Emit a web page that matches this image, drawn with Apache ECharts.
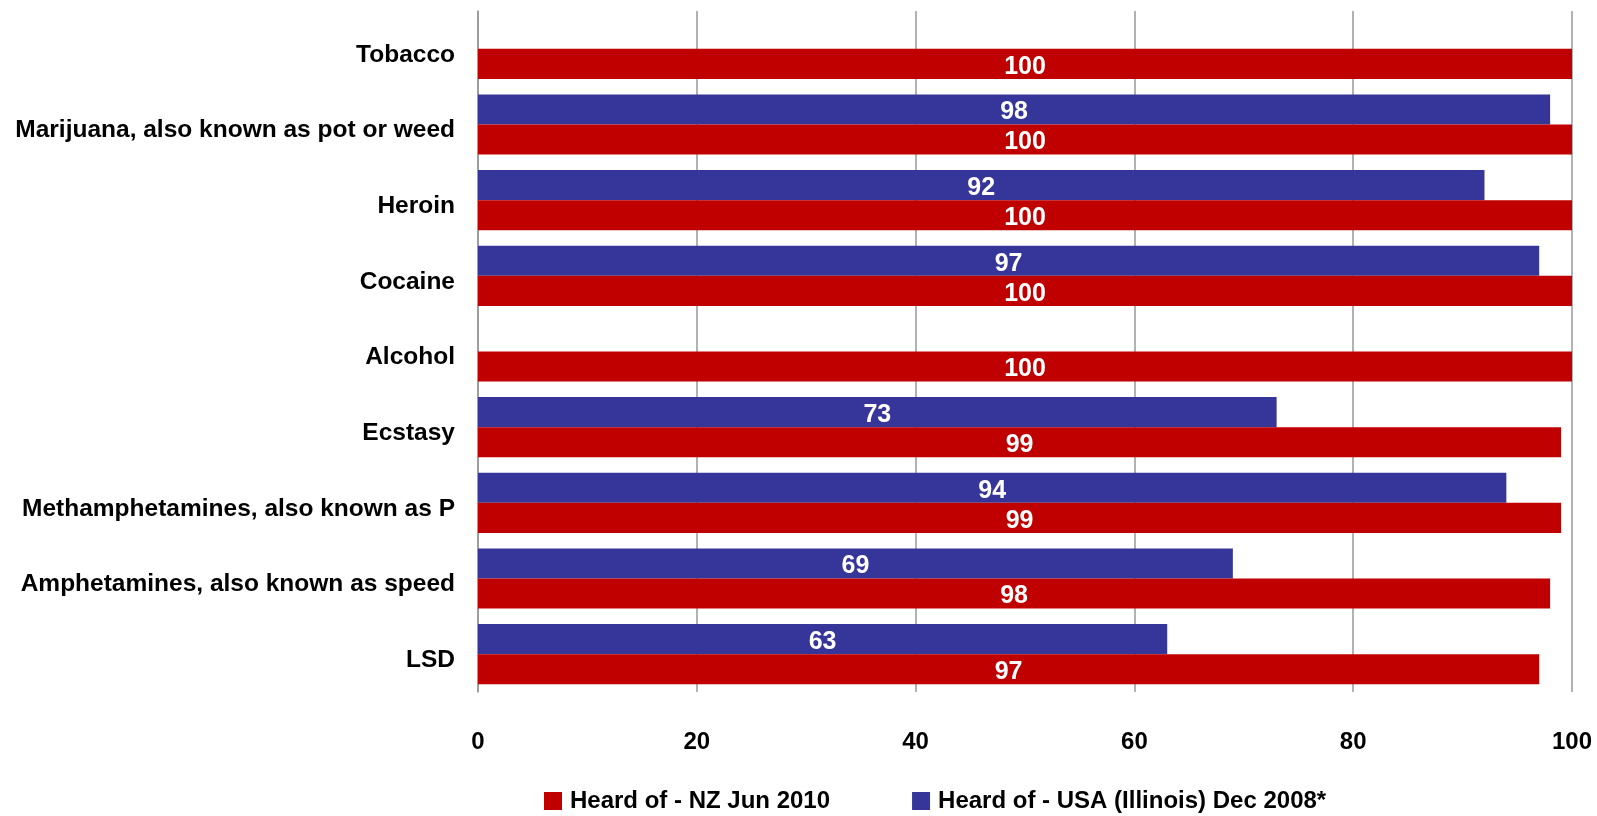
<!DOCTYPE html>
<html><head><meta charset="utf-8">
<script src="https://cdn.jsdelivr.net/npm/echarts@6/dist/echarts.min.js"></script>
<style>html,body{margin:0;padding:0;background:#fff}#c{width:1597px;height:816px}</style>
</head><body><div id="c"></div>
<script>
// categories listed bottom to top
const categories = ["LSD","Amphetamines, also known as speed","Methamphetamines, also known as P","Ecstasy","Alcohol","Cocaine","Heroin","Marijuana, also known as pot or weed","Tobacco"];
const nzValues = [97,98,99,99,100,100,100,100,100];
const usaValues = [63,69,94,73,null,97,92,98,null];
const seriesNames = ["Heard of - NZ Jun 2010","Heard of - USA (Illinois) Dec 2008*"];
const xTicks = [0,20,40,60,80,100];

const FONT = "'Liberation Sans', Arial, sans-serif";
const chart = echarts.init(document.getElementById('c'), null, {renderer:'canvas'});
const lbl = {show:true, position:'inside', offset:[0,3], color:'#fff', fontWeight:'bold', fontSize:25, fontFamily:FONT};
chart.setOption({
  animation:false,
  grid:{left:478, right:25, top:11, bottom:124},
  legend:{top:784, left:539, itemWidth:18, itemHeight:18, itemGap:82, icon:'rect',
    textStyle:{fontFamily:FONT, fontWeight:'bold', fontSize:24, color:'#000', padding:[0,0,0,3]},
    data:seriesNames},
  xAxis:{type:'value', min:xTicks[0], max:xTicks[xTicks.length-1], interval:20,
    axisLine:{show:false}, axisTick:{show:false},
    splitLine:{lineStyle:{color:'#999', width:1.5}},
    axisLabel:{margin:38, fontFamily:FONT, fontWeight:'bold', fontSize:24, color:'#000'}},
  yAxis:{type:'category', data:categories,
    axisLine:{show:true, lineStyle:{color:'#999', width:1.5}}, axisTick:{show:false},
    axisLabel:{margin:23, fontFamily:FONT, fontWeight:'bold', fontSize:24.5, color:'#000', verticalAlign:'top', lineHeight:12}},
  series:[
    {name:seriesNames[1], type:'bar', data:usaValues, barGap:'0%', barCategoryGap:'20.5%',
     itemStyle:{color:'#36369A'}, label:lbl},
    {name:seriesNames[0], type:'bar', data:nzValues, barGap:'0%', barCategoryGap:'20.5%',
     itemStyle:{color:'#C00000'}, label:lbl}
  ]
});
</script></body></html>
